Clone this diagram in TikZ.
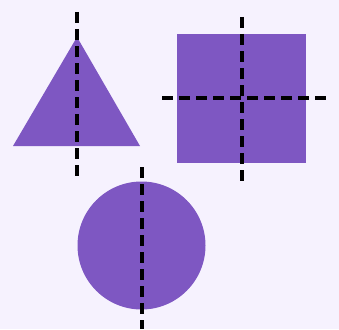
\documentclass[tikz,border=0pt]{standalone}
\usepackage{tikz}

\definecolor{bgpaper}{HTML}{F6F2FE}
\definecolor{shapepurple}{HTML}{7E57C2}

\tikzset{
  shapefill/.style={fill=shapepurple, draw=none},
  symline/.style={line width=3.6pt, dash pattern=on 11pt off 6pt},
}

\begin{document}
\begin{tikzpicture}[x=1pt, y=-1pt]
  \fill[bgpaper] (0,0) rectangle (339,329);
  \useasboundingbox (0,0) rectangle (339,329);

  % triangle
  \coordinate (apex)  at (77,37);
  \coordinate (left)  at (13,146);
  \coordinate (right) at (140,146);
  \fill[shapefill] (apex) -- (left) -- (right) -- cycle;

  % square
  \fill[shapefill] (177,34) rectangle (306,163);

  % circle
  \coordinate (ctr) at (141.5,245.5);
  \fill[shapefill] (ctr) circle (64);

  % axes of symmetry
  \coordinate (tri top) at (77,12);
  \coordinate (tri bot) at (77,178);
  \coordinate (sq top)  at (242,17);
  \coordinate (sq bot)  at (242,184);
  \coordinate (sq lft)  at (162,98);
  \coordinate (sq rgt)  at (329,98);
  \coordinate (ci top)  at (142,167);
  \coordinate (ci bot)  at (142,329);

  \draw[symline] (tri top) -- (tri bot);
  \draw[symline] (sq top) -- (sq bot);
  \draw[symline] (sq lft) -- (sq rgt);
  \draw[symline] (ci top) -- (ci bot);
\end{tikzpicture}
\end{document}
